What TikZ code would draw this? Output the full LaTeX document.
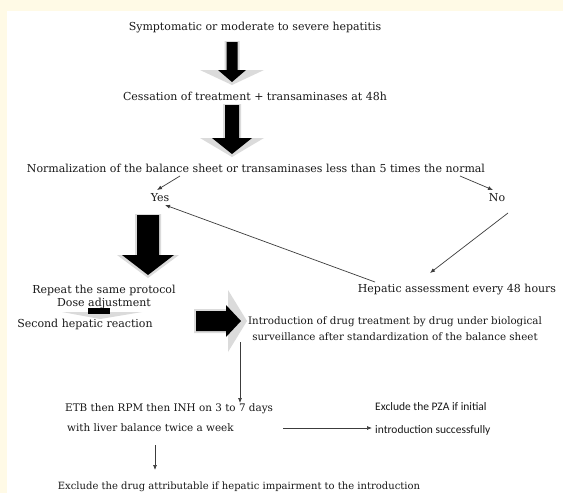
\documentclass[tikz,border=0pt]{standalone}
\usepackage{fontspec}
\setmainfont{DejaVu Serif}
\newfontfamily\narrowfont{Carlito}
\usetikzlibrary{arrows.meta}
\definecolor{bgyellow}{RGB}{255,250,230}
\definecolor{linegray}{RGB}{60,60,60}
\newcommand\bdarrow[7]{% cx, ytop, ybase, ytip, shaft half, black head half, gray head half
  \fill[gray!28] (#1-#5-2,#2-1) -- (#1+#5+2,#2-1) -- (#1+#5+2,#3) -- (#1+#7,#3) -- (#1,#4+3) -- (#1-#7,#3) -- (#1-#5-2,#3) -- cycle;
  \fill[black] (#1-#5,#2) -- (#1+#5,#2) -- (#1+#5,#3) -- (#1+#6,#3) -- (#1,#4) -- (#1-#6,#3) -- (#1-#5,#3) -- cycle;
}
\begin{document}
\begin{tikzpicture}[x=1pt,y=-1pt,
  txt/.style={inner sep=0pt, font=\fontsize{11}{13.5}\selectfont, text=black!90},
  conn/.style={draw=linegray, line width=0.7pt, -{Latex[length=5pt,width=4pt]}},
  plain/.style={draw=linegray, line width=0.7pt}]
\useasboundingbox (0,0) rectangle (563,493);
\fill[bgyellow] (0,0) rectangle (563,493);
\fill[white] (7,11) rectangle (563,493);

\node[txt] (t1) at (255,28) {Symptomatic or moderate to severe hepatitis};
\node[txt] (t2) at (255,96) {Cessation of treatment + transaminases at 48h};
\node[txt] (t3) at (256,168) {Normalization of the balance sheet or transaminases less than 5 times the normal};
\node[txt] (yes) at (160,198) {Yes};
\node[txt] (no) at (497,198) {No};
\node[txt, align=center] (rep) at (104,297) {Repeat the same protocol\\Dose adjustment};
\node[txt] (hep) at (457,290) {Hepatic assessment every 48 hours};
\node[txt] (sec) at (85,324) {Second hepatic reaction};
\node[txt, align=center, font=\fontsize{10.3}{16}\selectfont] (intro) at (395,329) {Introduction of drug treatment by drug under biological\\surveillance after standardization of the balance sheet};
\node[txt, align=left, anchor=west, font=\fontsize{10.4}{20}\selectfont] (etb) at (65,418) {ETB then RPM then INH on 3 to 7 days\\\hspace{2pt}with liver balance twice a week};
\node[txt, align=left, anchor=west, font=\narrowfont\fontsize{11.5}{23}\selectfont] (pza) at (375,419) {Exclude the PZA if initial\\introduction successfully};
\node[txt, font=\fontsize{10}{12}\selectfont] (excl) at (239,487) {Exclude the drug attributable if hepatic impairment to the introduction};

% block arrows
\bdarrow{232}{42}{70}{82}{5.5}{14}{32}
\bdarrow{232}{105}{138}{154}{7}{20}{32}
\bdarrow{148}{215}{255}{275}{11}{26}{31}
% small down arrow
\fill[gray!28] (62,312) -- (142,312) -- (100,319) -- cycle;
\fill[black] (88,308) rectangle (110,314);
% right block arrow
\fill[gray!28] (194,309) -- (228,309) -- (228,290) -- (247,321) -- (228,352) -- (228,333) -- (194,333) -- cycle;
\fill[black] (196,311) -- (226,311) -- (226,305) -- (241,321) -- (226,337) -- (226,331) -- (196,331) -- cycle;

% connectors
\coordinate (a1) at (180,176);
\coordinate (a2) at (157,190);
\draw[conn] (a1) -- (a2);
\coordinate (b1) at (460,176);
\coordinate (b2) at (493,190);
\draw[conn] (b1) -- (b2);
\coordinate (c1) at (508,213);
\coordinate (c2) at (430,273);
\draw[conn] (c1) -- (c2);
\coordinate (d1) at (375,282);
\coordinate (d2) at (165,205);
\draw[conn] (d1) -- (d2);
\coordinate (e1) at (240,342);
\coordinate (e2) at (240,403);
\draw[conn] (e1) -- (e2);
\coordinate (f1) at (283,428);
\coordinate (f2) at (372,428);
\draw[conn] (f1) -- (f2);
\coordinate (g1) at (155,445);
\coordinate (g2) at (155,470);
\draw[conn] (g1) -- (g2);
\end{tikzpicture}
\end{document}
